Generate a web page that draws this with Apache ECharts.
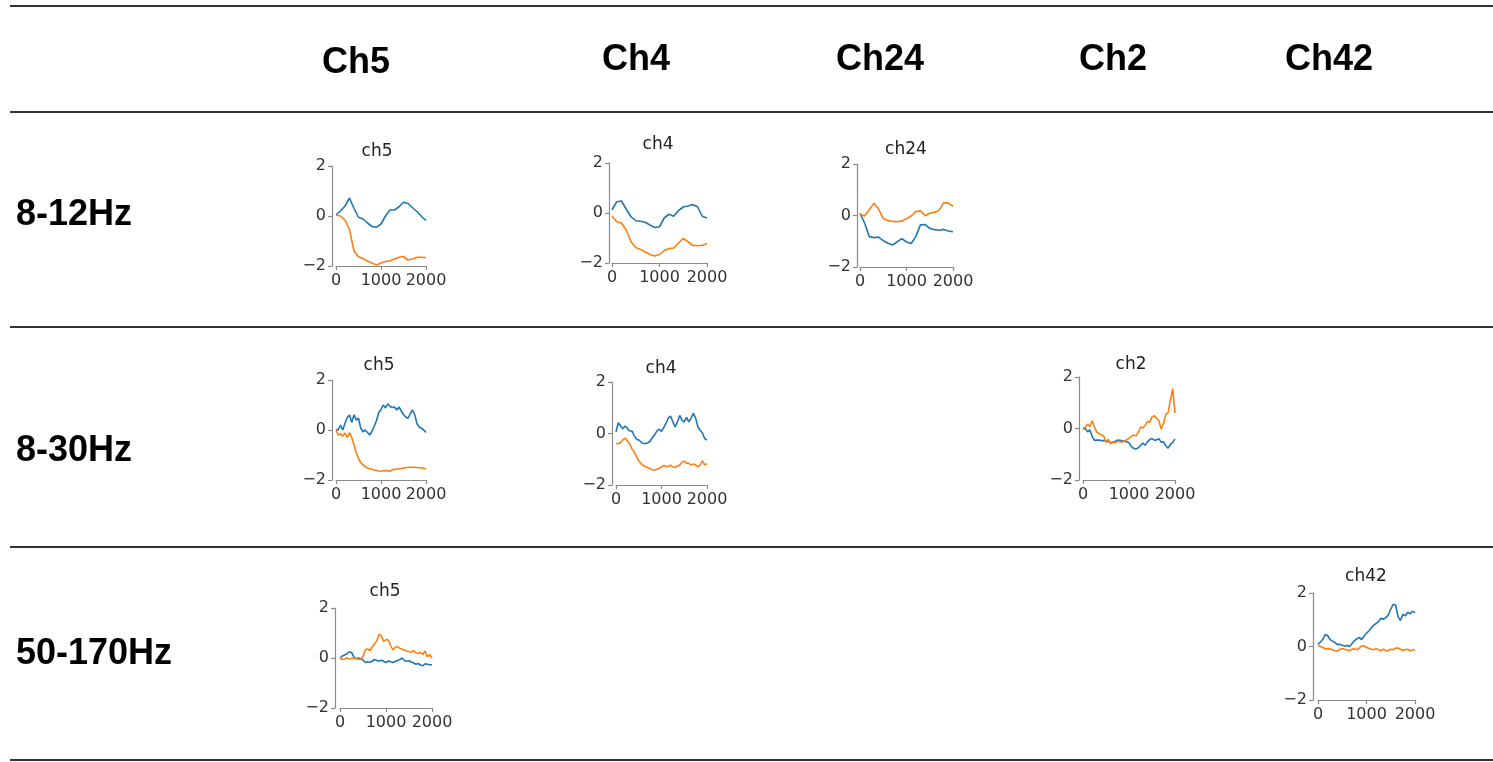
<!DOCTYPE html>
<html>
<head>
<meta charset="utf-8">
<script src="https://cdn.jsdelivr.net/npm/echarts@6/dist/echarts.min.js"></script>
<style>
html,body{margin:0;padding:0;background:#fff;}
#main{width:1493px;height:762px;}
</style>
</head>
<body>
<div id="main"></div>
<script>
// ---------- DATA ----------
var colHeaders = ['Ch5', 'Ch4', 'Ch24', 'Ch2', 'Ch42'];
var rowHeaders = ['8-12Hz', '8-30Hz', '50-170Hz'];
var chartTitles = ['ch5', 'ch4', 'ch24', 'ch5', 'ch4', 'ch2', 'ch5', 'ch42'];
var yTicks = [-2, 0, 2];
var xTicks = [0, 1000, 2000];

var t100 = [0,100,200,300,400,500,600,700,800,900,1000,1100,1200,1300,1400,1500,1600,1700,1800,1900,2000];
var t50 = [0,50,100,150,200,250,300,350,400,450,500,550,600,650,700,750,800,850,900,950,1000,
           1050,1100,1150,1200,1250,1300,1350,1400,1450,1500,1550,1600,1650,1700,1750,1800,1850,1900,1950,2000];

// Row 1 (8-12Hz)
var r1ch5Blue   = [0.05,0.2,0.4,0.72,0.3,-0.05,-0.12,-0.28,-0.42,-0.45,-0.32,0.0,0.24,0.24,0.37,0.55,0.5,0.33,0.18,-0.02,-0.18];
var r1ch5Orange = [0.03,0.0,-0.16,-0.55,-1.4,-1.63,-1.7,-1.8,-1.88,-1.96,-1.88,-1.82,-1.79,-1.72,-1.65,-1.62,-1.76,-1.72,-1.65,-1.65,-1.67];
var r1ch4Blue   = [0.13,0.45,0.48,0.15,-0.15,-0.31,-0.33,-0.37,-0.48,-0.58,-0.55,-0.2,-0.05,-0.13,0.1,0.24,0.28,0.34,0.25,-0.13,-0.2];
var r1ch4Orange = [-0.13,-0.35,-0.4,-0.68,-1.15,-1.38,-1.46,-1.56,-1.66,-1.72,-1.66,-1.5,-1.42,-1.4,-1.2,-1.02,-1.15,-1.3,-1.3,-1.3,-1.22];
var r1ch24Blue   = [0.09,-0.3,-0.82,-0.86,-0.84,-0.98,-1.08,-1.15,-1.02,-0.9,-1.03,-1.09,-0.82,-0.36,-0.35,-0.5,-0.55,-0.57,-0.54,-0.6,-0.63];
var r1ch24Orange = [0.05,-0.02,0.22,0.48,0.25,-0.12,-0.2,-0.23,-0.24,-0.21,-0.13,-0.02,0.15,0.18,-0.01,0.09,0.12,0.2,0.5,0.48,0.36];

// Row 2 (8-30Hz)
var r2ch5Blue = [0.03,0.0,0.2,0.0,0.27,0.5,0.6,0.3,0.61,0.4,0.47,0.07,-0.07,0.0,-0.1,-0.2,-0.05,0.15,0.38,0.7,0.82,
                 1.0,0.88,1.05,0.95,0.9,0.92,0.8,0.92,0.76,0.62,0.52,0.47,0.65,0.8,0.61,0.25,0.12,0.07,0.0,-0.1];
var r2ch5Orange = [0.0,-0.2,-0.15,-0.25,-0.12,-0.3,-0.1,-0.3,-0.6,-0.9,-1.15,-1.3,-1.4,-1.47,-1.52,-1.55,-1.57,-1.6,-1.62,-1.64,-1.65,
                   -1.63,-1.62,-1.63,-1.65,-1.6,-1.57,-1.57,-1.55,-1.54,-1.52,-1.5,-1.5,-1.49,-1.49,-1.49,-1.5,-1.51,-1.52,-1.53,-1.55];
var r2ch4Blue = [0.06,0.42,0.3,0.18,0.29,0.2,0.1,0.1,-0.08,-0.22,-0.25,-0.33,-0.39,-0.39,-0.36,-0.3,-0.15,-0.05,0.1,0.17,0.08,
                 0.24,0.4,0.6,0.68,0.45,0.26,0.45,0.7,0.52,0.45,0.63,0.45,0.6,0.78,0.6,0.25,0.13,0.02,-0.2,-0.26];
var r2ch4Orange = [-0.39,-0.4,-0.35,-0.25,-0.18,-0.28,-0.4,-0.6,-0.71,-0.9,-1.07,-1.17,-1.24,-1.29,-1.33,-1.36,-1.41,-1.42,-1.39,-1.35,-1.3,
                   -1.24,-1.28,-1.28,-1.23,-1.3,-1.31,-1.26,-1.23,-1.1,-1.08,-1.15,-1.16,-1.22,-1.18,-1.22,-1.3,-1.23,-1.06,-1.22,-1.17];
var r2ch2Blue = [-0.03,0.0,-0.13,-0.05,-0.31,-0.46,-0.45,-0.45,-0.47,-0.47,-0.48,-0.51,-0.55,-0.53,-0.5,-0.45,-0.46,-0.48,-0.5,-0.51,-0.55,
                 -0.7,-0.77,-0.8,-0.75,-0.66,-0.57,-0.65,-0.52,-0.43,-0.39,-0.45,-0.44,-0.4,-0.53,-0.52,-0.67,-0.76,-0.62,-0.54,-0.41];
var r2ch2Orange = [0.0,0.05,0.17,0.08,0.3,0.06,-0.14,-0.2,-0.24,-0.3,-0.54,-0.42,-0.6,-0.51,-0.55,-0.5,-0.5,-0.53,-0.48,-0.44,-0.38,
                   -0.3,-0.26,-0.28,-0.15,0.05,0.02,0.12,0.28,0.24,0.45,0.5,0.4,0.3,-0.02,0.2,0.55,0.62,1.1,1.55,0.6];

// Row 3 (50-170Hz)
var r3ch5Blue = [0,0.08,0.12,0.17,0.25,0.22,0.05,-0.03,0.0,-0.03,-0.08,-0.18,-0.15,-0.17,-0.13,-0.06,-0.1,-0.12,-0.09,-0.14,-0.18,
                 -0.12,-0.15,-0.18,-0.14,-0.1,-0.06,0.0,-0.1,-0.13,-0.11,-0.16,-0.2,-0.25,-0.22,-0.28,-0.31,-0.23,-0.25,-0.27,-0.27];
var r3ch5Orange = [0,-0.06,-0.04,0.0,-0.03,-0.02,0.0,-0.03,-0.05,-0.06,0.05,0.33,0.36,0.3,0.44,0.57,0.68,0.95,0.88,0.66,0.74,
                   0.72,0.5,0.32,0.43,0.46,0.38,0.35,0.32,0.28,0.25,0.24,0.3,0.2,0.18,0.23,0.14,0.28,0.04,0.14,0.0];
var r3ch42Blue = [0.08,0.17,0.27,0.45,0.4,0.26,0.2,0.15,0.07,0.08,0.05,0.02,0.04,0.0,0.1,0.22,0.28,0.34,0.26,0.38,0.5,
                  0.58,0.7,0.8,0.86,0.94,1.06,1.02,1.08,1.18,1.4,1.58,1.55,1.12,0.97,1.2,1.15,1.28,1.22,1.32,1.26];
var r3ch42Orange = [0.05,0.0,-0.04,-0.09,-0.08,-0.09,-0.12,-0.16,-0.17,-0.1,-0.08,-0.1,-0.13,-0.16,-0.1,-0.09,-0.12,-0.06,0.02,0.03,-0.04,
                    -0.07,-0.1,-0.12,-0.08,-0.12,-0.16,-0.1,-0.16,-0.15,-0.1,-0.12,-0.06,-0.06,-0.1,-0.15,-0.12,-0.1,-0.16,-0.13,-0.12];

var chartData = [
  {t: t100, blue: r1ch5Blue,  orange: r1ch5Orange},
  {t: t100, blue: r1ch4Blue,  orange: r1ch4Orange},
  {t: t100, blue: r1ch24Blue, orange: r1ch24Orange},
  {t: t50,  blue: r2ch5Blue,  orange: r2ch5Orange},
  {t: t50,  blue: r2ch4Blue,  orange: r2ch4Orange},
  {t: t50,  blue: r2ch2Blue,  orange: r2ch2Orange},
  {t: t50,  blue: r3ch5Blue,  orange: r3ch5Orange},
  {t: t50,  blue: r3ch42Blue, orange: r3ch42Orange}
];

// ---------- LAYOUT (positions / styles) ----------
var layout = [
  {x0: 336,  x1: 426,  top: 166, bottom: 266, axisX: 332,  tx: 377,  ty: 152},
  {x0: 612,  x1: 707,  top: 163, bottom: 263, axisX: 609,  tx: 658,  ty: 145},
  {x0: 860,  x1: 953,  top: 164, bottom: 267, axisX: 857,  tx: 906,  ty: 150},
  {x0: 336,  x1: 426,  top: 380, bottom: 480, axisX: 332,  tx: 379,  ty: 366},
  {x0: 616,  x1: 707,  top: 382, bottom: 485, axisX: 612,  tx: 661,  ty: 369},
  {x0: 1083, x1: 1175, top: 377, bottom: 480, axisX: 1079, tx: 1131, ty: 365},
  {x0: 340,  x1: 432,  top: 608, bottom: 708, axisX: 335,  tx: 385,  ty: 592},
  {x0: 1318, x1: 1415, top: 593, bottom: 700, axisX: 1313, tx: 1366, ty: 577}
];
var headerPos = [{x: 322, y: 63}, {x: 602, y: 60}, {x: 836, y: 60}, {x: 1079, y: 60}, {x: 1285, y: 60}];
var rowPos = [{x: 16, y: 215}, {x: 16, y: 451}, {x: 16, y: 654}];
var ruleY = [6, 112, 327, 547, 760];

var BLUE = '#1f77b4', ORANGE = '#ff7f0e';
var AXIS_COLOR = '#8a8a8a';
var TEXT_COLOR = '#333';
var tickFont = 'DejaVu Sans';

var grids = [], xAxes = [], yAxes = [], series = [], titles = [];
chartData.forEach(function (d, i) {
  var L = layout[i];
  grids.push({left: L.x0, top: L.top, width: L.x1 - L.x0, height: L.bottom - L.top, containLabel: false});
  xAxes.push({
    type: 'value', gridIndex: i, min: xTicks[0], max: xTicks[xTicks.length - 1], interval: xTicks[1] - xTicks[0],
    axisLine: {show: true, onZero: false, lineStyle: {color: AXIS_COLOR, width: 1.2}},
    axisTick: {show: true, length: 4, lineStyle: {color: AXIS_COLOR, width: 1.2}},
    axisLabel: {show: true, margin: 7, color: TEXT_COLOR, fontSize: 16, fontFamily: tickFont,
      showMinLabel: true, showMaxLabel: true, hideOverlap: false,
      formatter: function (v) { return String(v); }},
    splitLine: {show: false}
  });
  yAxes.push({
    type: 'value', gridIndex: i, min: yTicks[0], max: yTicks[yTicks.length - 1], interval: yTicks[1] - yTicks[0],
    offset: L.x0 - L.axisX,
    axisLine: {show: true, onZero: false, lineStyle: {color: AXIS_COLOR, width: 1.2}},
    axisTick: {show: true, length: 4, lineStyle: {color: AXIS_COLOR, width: 1.2}},
    axisLabel: {show: true, margin: 6, color: TEXT_COLOR, fontSize: 16, fontFamily: tickFont,
      formatter: function (v) { return String(v).replace('-', '\u2212'); }},
    splitLine: {show: false}
  });
  [['blue', BLUE], ['orange', ORANGE]].forEach(function (s) {
    series.push({
      type: 'line', xAxisIndex: i, yAxisIndex: i,
      data: d.t.map(function (t, k) { return [t, d[s[0]][k]]; }),
      showSymbol: false, symbol: 'none', smooth: false, silent: true,
      lineStyle: {color: s[1], width: 1.6}, animation: false
    });
  });
  titles.push({
    text: chartTitles[i], left: L.tx, top: L.ty,
    textStyle: {fontFamily: tickFont, fontSize: 17, fontWeight: 'normal', color: '#222'}
  });
});

var graphics = [];
ruleY.forEach(function (y) {
  graphics.push({type: 'line', shape: {x1: 10, y1: y, x2: 1493, y2: y}, style: {stroke: '#333', lineWidth: 2}, silent: true});
});
titles.forEach(function (t) {
  graphics.push({type: 'text', x: t.left, y: t.top,
    style: {text: t.text, font: '17px "DejaVu Sans"', fill: '#222', textAlign: 'center', textVerticalAlign: 'middle'}});
});
colHeaders.forEach(function (h, i) {
  graphics.push({type: 'text', x: headerPos[i].x, y: headerPos[i].y,
    style: {text: h, font: 'bold 36px "Liberation Sans", Arial, sans-serif', fill: '#000', textAlign: 'left', textVerticalAlign: 'middle'}});
});
rowHeaders.forEach(function (h, i) {
  graphics.push({type: 'text', x: rowPos[i].x, y: rowPos[i].y,
    style: {text: h, font: 'bold 36px "Liberation Sans", Arial, sans-serif', fill: '#000', textAlign: 'left', textVerticalAlign: 'middle'}});
});

var chart = echarts.init(document.getElementById('main'), null, {renderer: 'canvas'});
chart.setOption({
  backgroundColor: '#fff',
  animation: false,
  grid: grids, xAxis: xAxes, yAxis: yAxes, series: series,
  graphic: graphics
});
</script>
</body>
</html>
